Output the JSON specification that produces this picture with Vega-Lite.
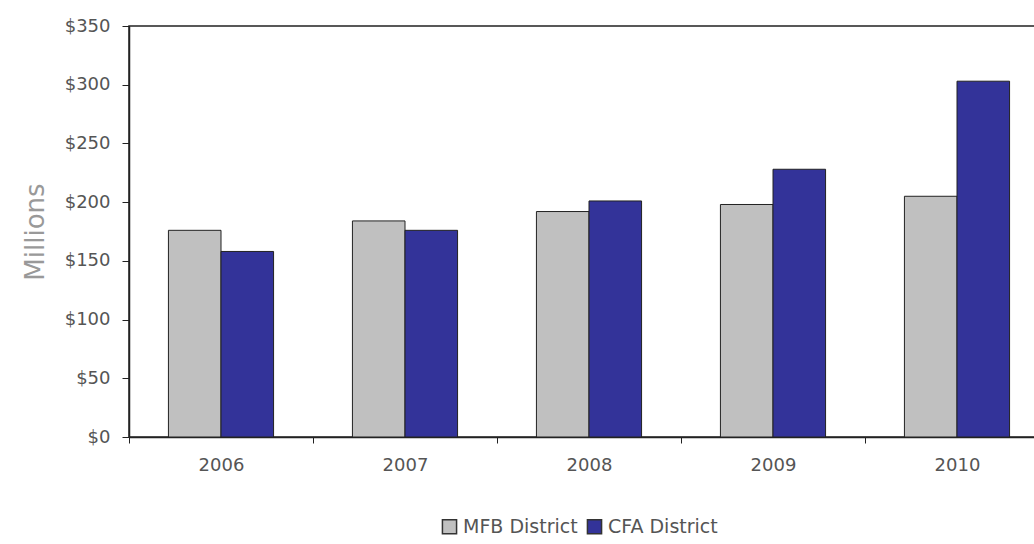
{
  "$schema": "https://vega.github.io/schema/vega-lite/v6.json",
  "width": 907,
  "height": 411,
  "autosize": "none",
  "padding": {"left": 129, "top": 26, "right": 0, "bottom": 107},
  "background": "white",
  "config": {
    "view": {"stroke": "#222", "strokeWidth": 1.5},
    "font": "DejaVu Sans"
  },
  "data": {
    "values": [
      {"year": "2006", "district": "MFB District", "value": 176},
      {"year": "2006", "district": "CFA District", "value": 158},
      {"year": "2007", "district": "MFB District", "value": 184},
      {"year": "2007", "district": "CFA District", "value": 176},
      {"year": "2008", "district": "MFB District", "value": 192},
      {"year": "2008", "district": "CFA District", "value": 201},
      {"year": "2009", "district": "MFB District", "value": 198},
      {"year": "2009", "district": "CFA District", "value": 228},
      {"year": "2010", "district": "MFB District", "value": 205},
      {"year": "2010", "district": "CFA District", "value": 303}
    ]
  },
  "mark": {"type": "bar", "stroke": "#222", "strokeWidth": 1},
  "encoding": {
    "x": {
      "field": "year",
      "type": "nominal",
      "scale": {"range": [0, 920], "paddingInner": 0, "paddingOuter": 0},
      "axis": {
        "title": null,
        "labelAngle": 0,
        "tickBand": "extent",
        "tickSize": 6,
        "tickColor": "#222",
        "domainColor": "#222",
        "domainWidth": 1.5,
        "labelPadding": 13,
        "labelFontSize": 18,
        "labelColor": "#555"
      }
    },
    "xOffset": {
      "field": "district",
      "type": "nominal",
      "sort": ["MFB District", "CFA District"],
      "scale": {"paddingInner": 0, "paddingOuter": 0.75}
    },
    "y": {
      "field": "value",
      "type": "quantitative",
      "scale": {"domain": [0, 350]},
      "axis": {
        "title": "Millions",
        "titleFontSize": 26,
        "titleFontWeight": "normal",
        "titleColor": "#999",
        "titlePadding": 16,
        "values": [0, 50, 100, 150, 200, 250, 300, 350],
        "format": "$d",
        "grid": false,
        "tickSize": 7,
        "tickColor": "#222",
        "domainColor": "#222",
        "domainWidth": 1.5,
        "labelPadding": 12,
        "labelFontSize": 18,
        "labelColor": "#555"
      }
    },
    "fill": {
      "field": "district",
      "type": "nominal",
      "sort": ["MFB District", "CFA District"],
      "scale": {"range": ["#C0C0C0", "#333399"]},
      "legend": {
        "title": null,
        "orient": "none",
        "direction": "horizontal",
        "legendX": 311,
        "legendY": 491,
        "symbolType": "square",
        "symbolSize": 200,
        "symbolStrokeColor": "#333",
        "symbolStrokeWidth": 1.5,
        "labelFontSize": 19,
        "labelColor": "#555",
        "columnPadding": 6,
        "symbolOffset": 0
      }
    }
  }
}
